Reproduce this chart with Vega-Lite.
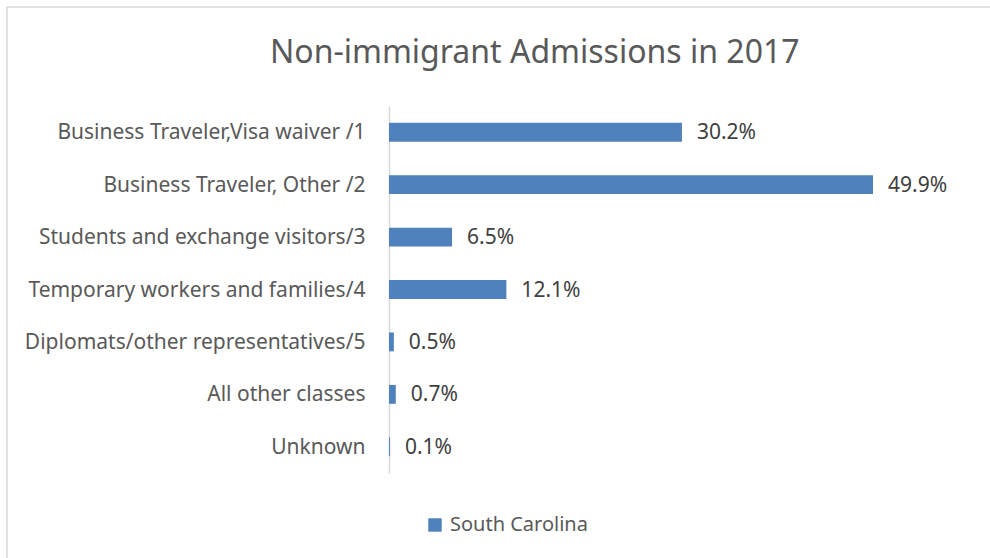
{
  "$schema": "https://vega.github.io/schema/vega-lite/v6.json",
  "width": 995,
  "height": 563,
  "autosize": "none",
  "padding": {"left": 7, "top": 7, "right": -12, "bottom": -12},
  "title": {
    "text": "Non-immigrant Admissions in 2017",
    "fontSize": 32,
    "font": "Noto Sans",
    "fontWeight": "normal",
    "color": "#595959",
    "anchor": "start",
    "baseline": "alphabetic",
    "offset": 0,
    "dx": 263,
    "dy": 88
  },
  "data": {
    "values": [
      {"category": "Business Traveler,Visa waiver /1", "share": 0.302, "series": "South Carolina"},
      {"category": "Business Traveler, Other /2", "share": 0.499, "series": "South Carolina"},
      {"category": "Students and exchange visitors/3", "share": 0.065, "series": "South Carolina"},
      {"category": "Temporary workers and families/4", "share": 0.121, "series": "South Carolina"},
      {"category": "Diplomats/other representatives/5", "share": 0.005, "series": "South Carolina"},
      {"category": "All other classes", "share": 0.007, "series": "South Carolina"},
      {"category": "Unknown", "share": 0.001, "series": "South Carolina"}
    ]
  },
  "encoding": {
    "y": {
      "field": "category",
      "type": "nominal",
      "sort": null,
      "title": null,
      "scale": {"range": [99, 466], "paddingInner": 0.64, "paddingOuter": 0.32},
      "axis": {
        "offset": -382,
        "ticks": false,
        "labelPadding": 24,
        "labelFontSize": 21,
        "labelFont": "Noto Sans",
        "labelColor": "#595959",
        "labelLimit": 400,
        "labelOffset": 1,
        "domainColor": "#d9d9d9",
        "domainWidth": 1.5
      }
    },
    "x": {
      "field": "share",
      "type": "quantitative",
      "scale": {"domain": [0, 0.6], "range": [382, 964]},
      "axis": null
    }
  },
  "layer": [
    {
      "mark": {"type": "bar"},
      "encoding": {
        "color": {
          "field": "series",
          "type": "nominal",
          "scale": {"range": ["#4f81bd"]},
          "legend": {
            "title": null,
            "orient": "none",
            "legendX": 418,
            "legendY": 508,
            "symbolType": "square",
            "symbolSize": 180,
            "symbolStrokeWidth": 0,
            "labelFontSize": 20,
            "labelFont": "Noto Sans",
            "labelColor": "#595959",
            "labelOffset": 5
          }
        }
      }
    },
    {
      "mark": {"type": "text", "align": "left", "dx": 15, "dy": 1, "fontSize": 21, "font": "Noto Sans", "color": "#404040"},
      "encoding": {
        "text": {"field": "share", "type": "quantitative", "format": ".1%"}
      }
    }
  ],
  "config": {
    "background": "white",
    "view": {"stroke": "#d9d9d9", "strokeWidth": 1.5}
  }
}
